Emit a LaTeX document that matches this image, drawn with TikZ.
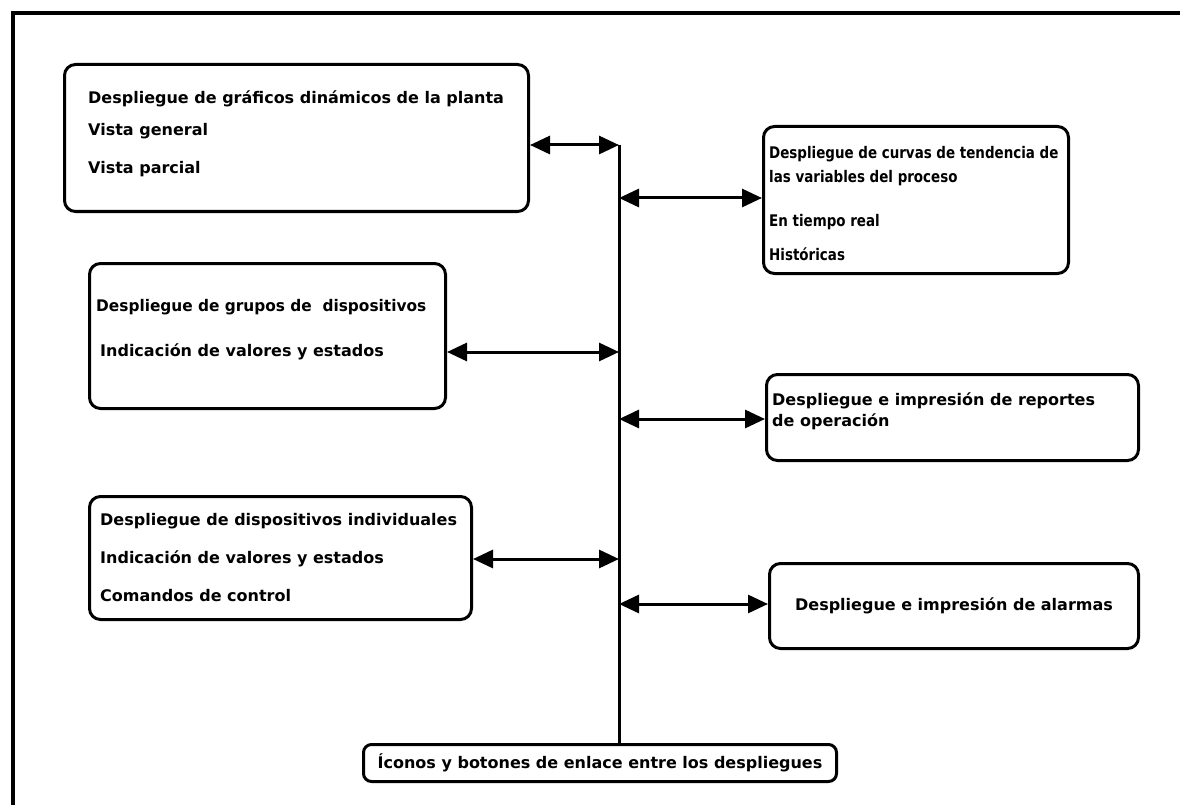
\documentclass[tikz,border=0pt]{standalone}
\usepackage{fontspec}
\setmainfont{DejaVu Sans}
\usetikzlibrary{arrows.meta}
\begin{document}
\begin{tikzpicture}[x=1pt,y=-1pt,
  frameline/.style={line width=3.5pt},
  panel/.style={draw, line width=3pt, rounded corners=11pt, anchor=north west, inner sep=0pt},
  link/.style={line width=3pt, {Triangle[length=20pt,width=18pt]}-{Triangle[length=20pt,width=18pt]}},
  busline/.style={line width=3pt},
  txt/.style={anchor=west, inner sep=0pt, font=\fontsize{16}{19}\selectfont\bfseries},
]
\useasboundingbox (0,0) rectangle (1180,805);
\fill[white] (0,0) rectangle (1180,805);
% outer frame
\draw[frameline] (13,805) -- (13,13) -- (1180,13);

% left column panels
\node[panel, minimum width=464pt, minimum height=147pt] (graf) at (63,63) {};
\node[txt] (graf1) at (88,99)  {Despliegue de gráficos dinámicos de la planta};
\node[txt] (graf2) at (88,131) {Vista general};
\node[txt] (graf3) at (88,169) {Vista parcial};

\node[panel, minimum width=356pt, minimum height=145pt] (grup) at (88,262) {};
\node[txt] (grup1) at (96,307)  {\scalebox{0.96}[1]{Despliegue de grupos de \ dispositivos}};
\node[txt] (grup2) at (100,352) {Indicación de valores y estados};

\node[panel, minimum width=382pt, minimum height=123pt] (indv) at (88,495) {};
\node[txt] (indv1) at (100,521) {Despliegue de dispositivos individuales};
\node[txt] (indv2) at (100,559) {Indicación de valores y estados};
\node[txt] (indv3) at (100,596) {Comandos de control};

% right column panels
\node[panel, minimum width=305pt, minimum height=147pt] (curv) at (762,125) {};
\node[txt] (curv1) at (769,154) {\scalebox{0.84}[1]{Despliegue de curvas de tendencia de}};
\node[txt] (curv2) at (769,178) {\scalebox{0.84}[1]{las variables del proceso}};
\node[txt] (curv3) at (769,222) {\scalebox{0.84}[1]{En tiempo real}};
\node[txt] (curv4) at (769,254) {\scalebox{0.84}[1]{Históricas}};

\node[panel, minimum width=372pt, minimum height=86pt] (repo) at (765,373) {};
\node[txt] (repo1) at (772,401) {Despliegue e impresión de reportes};
\node[txt] (repo2) at (772,422) {de operación};

\node[panel, minimum width=369pt, minimum height=85pt] (alar) at (768,562) {};
\node[txt, anchor=center] (alar1) at (alar.center) {Despliegue e impresión de alarmas};

% bottom link panel
\node[draw, line width=3pt, rounded corners=8pt, inner sep=0pt, anchor=north west,
      minimum width=473pt, minimum height=37pt] (icon) at (362,743) {};
\node[txt, anchor=center] (icon1) at (icon.center) {Íconos y botones de enlace entre los despliegues};

% vertical bus
\coordinate (bustop) at (619,145);
\coordinate (bgraf) at (619,145);
\coordinate (bcurv) at (619,198);
\coordinate (bgrup) at (619,352);
\coordinate (brepo) at (619,419);
\coordinate (bindv) at (619,559);
\coordinate (balar) at (619,604);
\draw[busline] (bustop) -- (bustop |- icon.north);

% links between panels and bus
\draw[link] (graf.east |- bgraf) -- (bgraf);
\draw[link] (bcurv) -- (curv.west |- bcurv);
\draw[link] (grup.east |- bgrup) -- (bgrup);
\draw[link] (brepo) -- (repo.west |- brepo);
\draw[link] (indv.east |- bindv) -- (bindv);
\draw[link] (balar) -- (alar.west |- balar);
\end{tikzpicture}
\end{document}
